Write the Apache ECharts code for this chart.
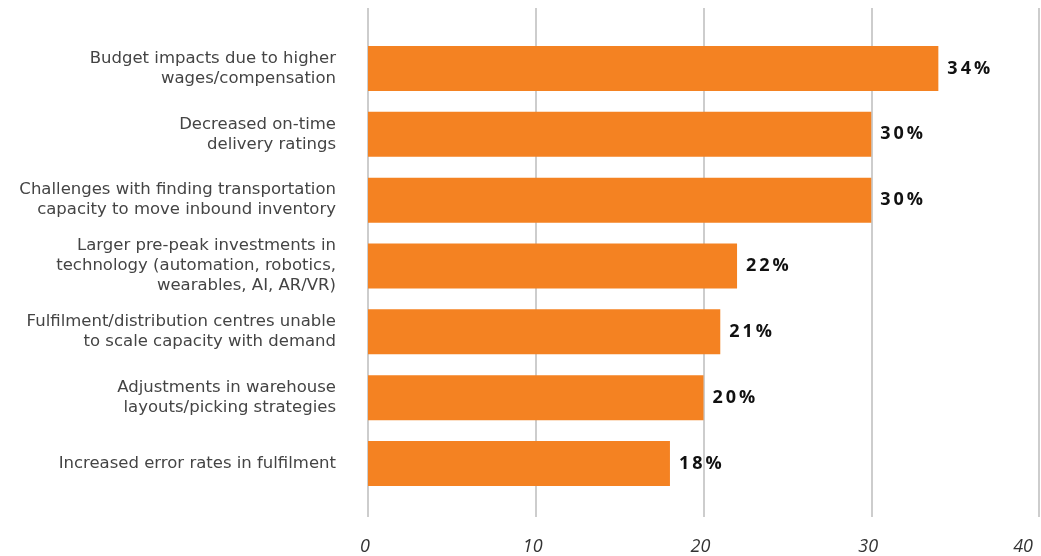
<!DOCTYPE html>
<html>
<head>
<meta charset="utf-8">
<script src="https://cdn.jsdelivr.net/npm/echarts@6/dist/echarts.min.js"></script>
<style>
  html, body { margin: 0; padding: 0; background: #ffffff; }
  #chart { width: 1041px; height: 556px; }
</style>
</head>
<body>
<div id="chart"></div>
<script>
// Peak-season impacts, share of respondents (%), listed top to bottom
const categories = [
  'Budget impacts due to higher\nwages/compensation',
  'Decreased on-time\ndelivery ratings',
  'Challenges with finding transportation\ncapacity to move inbound inventory',
  'Larger pre-peak investments in\ntechnology (automation, robotics,\nwearables, AI, AR/VR)',
  'Fulfilment/distribution centres unable\nto scale capacity with demand',
  'Adjustments in warehouse\nlayouts/picking strategies',
  'Increased error rates in fulfilment'
];
const values = [34, 30, 30, 22, 21, 20, 18];
const axisTicks = [0, 10, 20, 30, 40];

const LABEL_FONT = '"DejaVu Sans", sans-serif';
const FONT = '"Open Sans", "Noto Sans", sans-serif';
const AX_MIN = axisTicks[0];
const AX_MAX = axisTicks[axisTicks.length - 1];
const AX_STEP = axisTicks[1] - axisTicks[0];

// spaced-out percentage label, e.g. "3 4 %"
function spaced(v) {
  return (v + '%').split('').join('\u2009');
}

const chart = echarts.init(document.getElementById('chart'), null, { renderer: 'canvas' });

chart.setOption({
  animation: false,
  backgroundColor: '#ffffff',
  grid: [
    // bars
    { left: 368, right: 2, top: 35.5, bottom: 59.5 },
    // full-height gridlines and tick labels
    { left: 368, right: 2, top: 8, bottom: 36 }
  ],
  xAxis: [
    {
      gridIndex: 0, type: 'value', min: AX_MIN, max: AX_MAX, interval: AX_STEP,
      axisLine: { show: false }, axisTick: { show: false },
      axisLabel: { show: false }, splitLine: { show: false }
    },
    {
      gridIndex: 1, type: 'value', min: AX_MIN, max: AX_MAX, interval: AX_STEP,
      axisLine: { show: false }, axisTick: { show: false },
      axisLabel: {
        show: true, margin: 21, color: '#333', fontSize: 18,
        fontStyle: 'italic', fontFamily: FONT,
        alignMaxLabel: 'right', padding: [0, 6, 0, 0]
      },
      splitLine: { show: true, lineStyle: { color: '#bdbdbd', width: 1.5 } }
    }
  ],
  yAxis: [
    {
      gridIndex: 0, type: 'category', data: categories, inverse: true,
      axisLine: { show: false }, axisTick: { show: false },
      axisLabel: {
        margin: 32, color: '#444', fontSize: 16.5, lineHeight: 20,
        fontFamily: LABEL_FONT, align: 'right'
      }
    },
    {
      gridIndex: 1, type: 'category', data: [''],
      axisLine: { show: false }, axisTick: { show: false },
      axisLabel: { show: false }
    }
  ],
  series: [
    {
      type: 'bar',
      xAxisIndex: 0, yAxisIndex: 0,
      data: values,
      barWidth: 45,
      itemStyle: { color: '#F48222' },
      z: 3,
      label: {
        show: true, position: 'right', distance: 9,
        color: '#111', fontSize: 18, fontWeight: 'bold', fontFamily: FONT,
        padding: [3, 0, 0, 0],
        formatter: p => spaced(p.value)
      }
    }
  ]
});
</script>
</body>
</html>
